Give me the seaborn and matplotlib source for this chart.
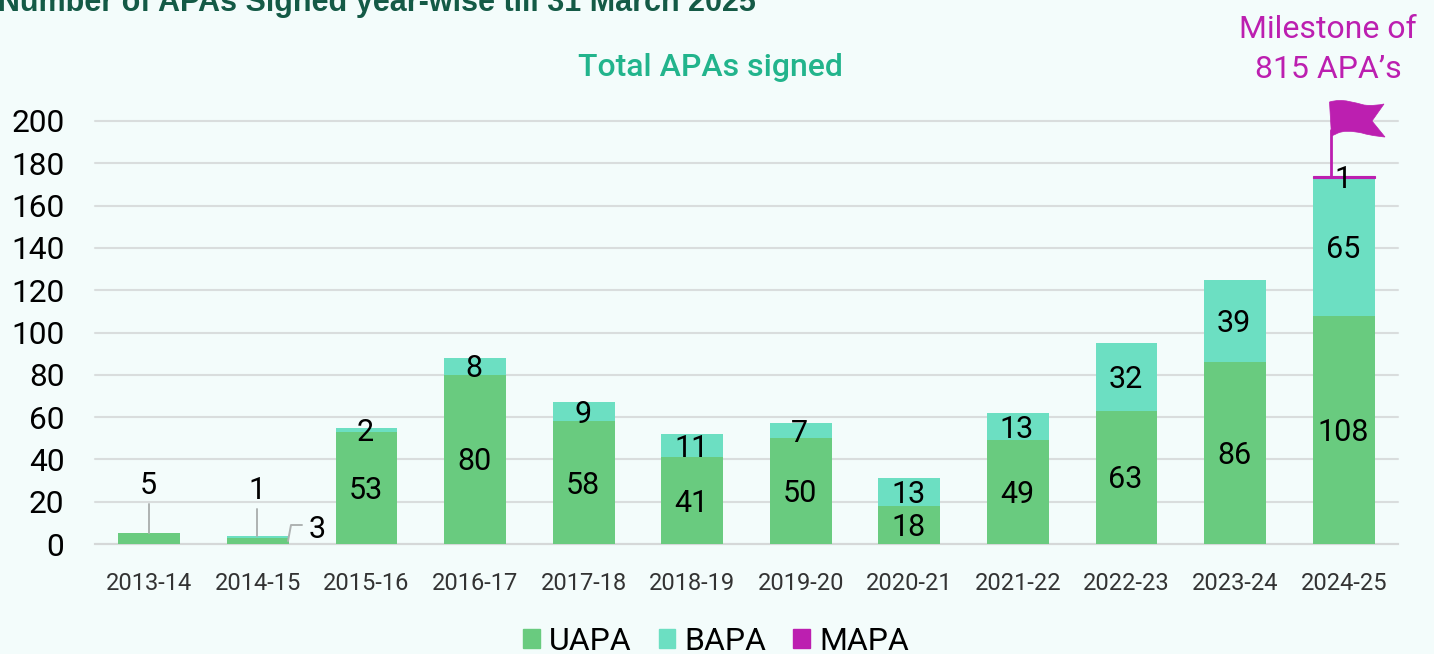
import numpy as np
import pandas as pd
import seaborn as sns
import matplotlib
matplotlib.use("Agg")
import matplotlib.pyplot as plt
from matplotlib.patches import Patch, PathPatch
from matplotlib.lines import Line2D
from matplotlib.path import Path
from matplotlib.transforms import Affine2D, offset_copy

years = ["2013-14","2014-15","2015-16","2016-17","2017-18","2018-19","2019-20","2020-21","2021-22","2022-23","2023-24","2024-25"]
uapa = [5,3,53,80,58,41,50,18,49,63,86,108]
bapa = [0,1,2,8,9,11,7,13,13,32,39,65]
mapa = [0,0,0,0,0,0,0,0,0,0,0,1]
uapa_labels = ["", "", "53","80","58","41","50","18","49","63","86","108"]
bapa_labels = ["", "", "2","8","9","11","7","13","13","32","39","65"]
yticks = [0,20,40,60,80,100,120,140,160,180,200]

BG = "#F3FCFB"; GREEN = "#69CB7F"; TEAL = "#6CDFC2"; MAG = "#BC1FB0"
W, H = 1434, 654
sns.set_theme(style="white")
plt.rcParams['font.family'] = ['Roboto', 'DejaVu Sans']
fig = plt.figure(figsize=(W/100, H/100), dpi=100, facecolor=BG)
ax = fig.add_axes([95/W, 1-544/H, (1398-95)/W, (544-121)/H], facecolor=BG)
df = pd.DataFrame({"year": years, "UAPA": uapa, "BAPA": bapa, "MAPA": mapa})
bot2 = df.UAPA.values
bot3 = bot2 + df.BAPA.values
W_BAR = 0.57
kw = dict(saturation=1, width=W_BAR, ax=ax, zorder=3, linewidth=0, edgecolor="none")
sns.barplot(data=df, x="year", y="UAPA", color=GREEN, **kw)
sns.barplot(data=df, x="year", y="BAPA", bottom=bot2, color=TEAL, **kw)
sns.barplot(data=df, x="year", y="MAPA", bottom=bot3, color=MAG, **kw)
ax.patches[-1].set_edgecolor(MAG)
ax.patches[-1].set_linewidth(0.8)

ax.set_xlim(-0.5, 11.5)
ax.set_ylim(0, 200)
ax.set_xlabel(""); ax.set_ylabel("")
ax.set_yticks(yticks)
ax.yaxis.grid(True, color="#D9DDDD", lw=1.5, zorder=0, clip_on=False)
ax.set_axisbelow(True)
for s in ["top","right","left"]:
    ax.spines[s].set_visible(False)
ax.spines["bottom"].set_color("#D5D8D8"); ax.spines["bottom"].set_linewidth(1.5)
ax.spines["bottom"].set_zorder(2)
ax.tick_params(axis="y", length=0, labelsize=22.8, labelcolor="black", pad=22)
ax.tick_params(axis="x", length=0, labelsize=17, labelcolor="#333333", pad=20)

lab = dict(fontsize=22, color="black", ha="center", va="center", zorder=5)
dy = -1.2
tr = offset_copy(ax.transData, fig=fig, x=-1, y=0, units="dots")
for i,(u,b,ul,bl) in enumerate(zip(uapa,bapa,uapa_labels,bapa_labels)):
    if ul:
        ax.text(i, u/2+dy, ul, transform=tr, **lab)
    if bl:
        ax.text(i, u+b/2+dy, bl, transform=tr, **lab)
ax.text(0, 29+dy, "5", transform=tr, **lab)
ax.text(1, 26.5+dy, "1", transform=tr, **lab)
ax.text(1.56, 8+dy, "3", transform=tr, **lab)
ax.text(11, 173.5+dy, "1", transform=tr, **lab)

# leader lines and flag, placed in pixel coordinates
px = Affine2D().scale(1, -1).translate(0, H)
grey = "#AEB2B2"
for xs, ys in [([149,149],[504,533]), ([257,257],[509,536]), ([288,291,302],[541,525,525])]:
    fig.add_artist(Line2D(xs, ys, transform=px, color=grey, lw=1.4, zorder=6))
fig.add_artist(Line2D([1331,1331],[130,176], transform=px, color=MAG, lw=2, zorder=6))
C = Path.CURVE4
flag = Path([(1329.5,102),(1343,98),(1355,103),(1364,105),(1372,106),(1379,105),(1384,104),
             (1372,121),(1385,137),(1385,137),(1372,136),(1362,133),(1352,131),(1343,130),(1336,134),(1331.5,136),
             (1329.5,102)],
            [Path.MOVETO,C,C,C,C,C,C,Path.LINETO,Path.LINETO,C,C,C,C,C,C,Path.LINETO,Path.CLOSEPOLY])
fig.add_artist(PathPatch(flag, transform=px, facecolor=MAG, edgecolor=MAG, lw=0.5, zorder=6))

fig.text(-2/W, 1-3/H, "Number of APAs Signed year-wise till 31 March 2025", fontsize=22, fontweight="bold",
         color="#145A46", family=["Liberation Sans","DejaVu Sans"], ha="left", va="center")
fig.text(710/W, 1-68/H, "Total APAs signed", fontsize=23, fontweight="medium", color="#22B48C", ha="center", va="center")
fig.text(1328/W, 1-30/H, "Milestone of", fontsize=23, color=MAG, ha="center", va="center")
fig.text(1328/W, 1-69/H, "815 APA\u2019s", fontsize=23, color=MAG, ha="center", va="center")

handles = [Patch(color=GREEN, label="UAPA"), Patch(color=TEAL, label="BAPA"), Patch(color=MAG, label="MAPA")]
fig.legend(handles=handles, loc="center", bbox_to_anchor=(716/W, 1-641/H), ncol=3, frameon=False,
           fontsize=23, handlelength=0.53, handleheight=0.53, handletextpad=0.28, columnspacing=0.85,
           borderpad=0, labelcolor="black")
fig.savefig("out.png", dpi=100, facecolor=BG)
